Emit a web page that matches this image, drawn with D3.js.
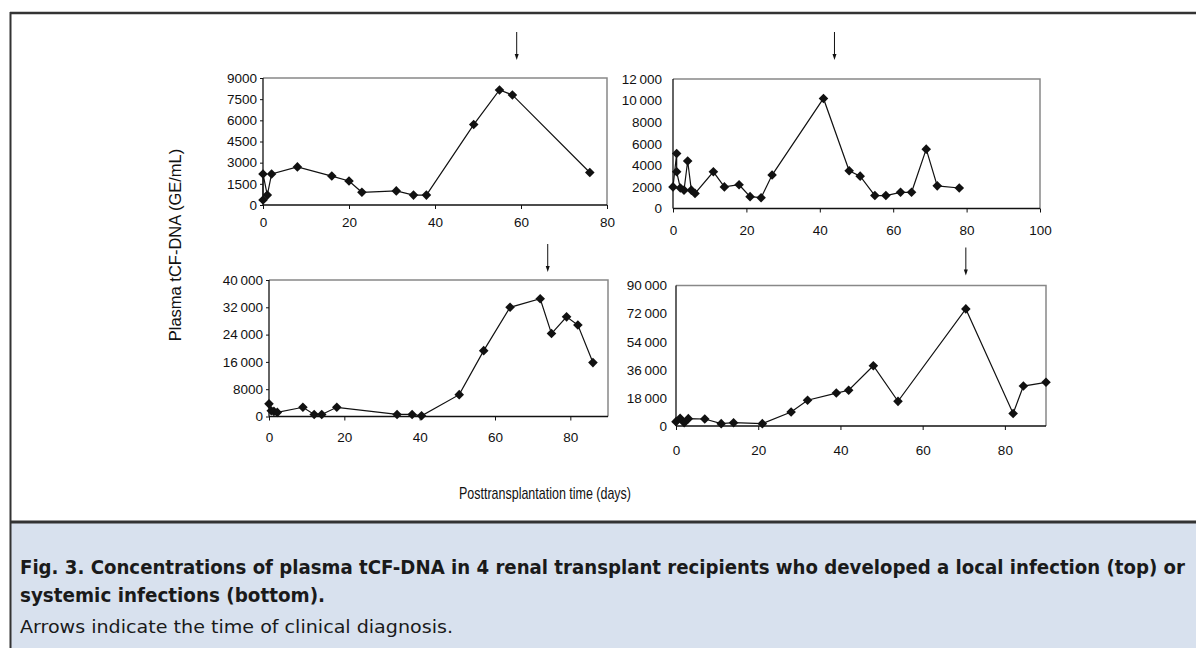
<!DOCTYPE html>
<html>
<head>
<meta charset="utf-8">
<script src="https://cdnjs.cloudflare.com/ajax/libs/d3/7.8.5/d3.min.js"></script>
<style>
  html, body { margin: 0; padding: 0; background: #fff; }
  svg { display: block; }
  .tick text { font-family: "Liberation Sans", Arial, sans-serif; font-size: 13.5px; fill: #111; }
</style>
</head>
<body>
<svg id="fig" width="1196" height="648"></svg>
<script>
// patient 1 (local infection)
const p1Days = [0, 0, 1, 2, 8, 16, 20, 23, 31, 35, 38, 49, 55, 58, 76];
const p1Vals = [350, 2200, 700, 2200, 2700, 2050, 1700, 900, 1000, 700, 700, 5700, 8150, 7800, 2300];
// patient 2 (local infection)
const p2Days = [0, 1, 1, 2, 3, 4, 5, 6, 11, 14, 18, 21, 24, 27, 41, 48, 51, 55, 58, 62, 65, 69, 72, 78];
const p2Vals = [2000, 5100, 3400, 1900, 1700, 4400, 1700, 1400, 3400, 2000, 2200, 1100, 1000, 3100, 10200, 3500, 3000, 1200, 1200, 1500, 1500, 5500, 2100, 1900];
// patient 3 (systemic infection)
const p3Days = [0, 0.6, 1.3, 2.2, 9, 12, 14, 18, 34, 38, 40.5, 50.5, 57, 64, 72, 75, 79, 82, 86];
const p3Vals = [3700, 1700, 1500, 1200, 2700, 600, 600, 2700, 600, 600, 200, 6400, 19300, 32000, 34500, 24300, 29200, 26800, 15800];
// patient 4 (systemic infection)
const p4Days = [0, 1, 2, 3, 7, 11, 14, 21, 28, 32, 39, 42, 48, 54, 70.5, 82, 84.5, 90];
const p4Vals = [2800, 4900, 2100, 4700, 4500, 1500, 2100, 1500, 9000, 16500, 21100, 22900, 38600, 15800, 75000, 8000, 25600, 28000];

// day of clinical diagnosis (arrows)
const diagnosisDays = [59, 44, 74, 70.5];

const xMax = [80, 100, 90, 90];
const yMax = [9000, 12000, 40000, 90000];
const xTicks = [[0, 20, 40, 60, 80], [0, 20, 40, 60, 80, 100], [0, 20, 40, 60, 80], [0, 20, 40, 60, 80]];
const yTicks = [
  [0, 1500, 3000, 4500, 6000, 7500, 9000],
  [0, 2000, 4000, 6000, 8000, 10000, 12000],
  [0, 8000, 16000, 24000, 32000, 40000],
  [0, 18000, 36000, 54000, 72000, 90000]
];

const yTitle = "Plasma tCF-DNA (GE/mL)";
const xTitle = "Posttransplantation time (days)";
const captionBold = ["Fig. 3.  Concentrations of plasma tCF-DNA in 4 renal transplant recipients who developed a local infection (top) or",
                     "systemic infections (bottom)."];
const captionNote = "Arrows indicate the time of clinical diagnosis.";

// layout of each small panel (pixel boxes)
const boxes = [
  { l: 263, r: 607, t: 78, b: 205, ytick: 3, ypad: 3, xlab: 12, arrowGap: 18 },
  { l: 673, r: 1040, t: 79, b: 208.5, ytick: 0, ypad: 11, xlab: 17, arrowGap: 19 },
  { l: 269, r: 608, t: 280, b: 416.5, ytick: 3, ypad: 3, xlab: 16, arrowGap: 8 },
  { l: 676, r: 1046, t: 285.5, b: 426, ytick: 0, ypad: 9, xlab: 19, arrowGap: 10 }
];

const series = [
  p1Days.map((d, i) => [d, p1Vals[i]]),
  p2Days.map((d, i) => [d, p2Vals[i]]),
  p3Days.map((d, i) => [d, p3Vals[i]]),
  p4Days.map((d, i) => [d, p4Vals[i]])
];

const svg = d3.select("#fig");

// caption background and frame
svg.append("rect").attr("x", 0).attr("y", 0).attr("width", 1196).attr("height", 648).attr("fill", "#fff");
svg.append("rect").attr("x", 10).attr("y", 522).attr("width", 1186).attr("height", 126).attr("fill", "#d8e1ee");
svg.append("line").attr("x1", 10).attr("x2", 1196).attr("y1", 13).attr("y2", 13)
  .attr("stroke", "#333").attr("stroke-width", 2.5);
svg.append("line").attr("x1", 10).attr("x2", 1196).attr("y1", 522).attr("y2", 522)
  .attr("stroke", "#333").attr("stroke-width", 3);
svg.append("line").attr("x1", 10.5).attr("x2", 10.5).attr("y1", 12).attr("y2", 648)
  .attr("stroke", "#333").attr("stroke-width", 2);

const fmt = v => v >= 10000 ? d3.format(",")(v).replace(",", "\u2009") : String(v);

boxes.forEach((bx, i) => {
  const x = d3.scaleLinear().domain([0, xMax[i]]).range([bx.l, bx.r]);
  const y = d3.scaleLinear().domain([0, yMax[i]]).range([bx.b, bx.t]);
  const g = svg.append("g");

  // grey frame on top and right
  g.append("path")
    .attr("d", `M${bx.l},${bx.t}H${bx.r}V${bx.b}`)
    .attr("fill", "none").attr("stroke", "#888").attr("stroke-width", 1.5);

  const yAxis = g.append("g").attr("transform", `translate(${bx.l},0)`)
    .call(d3.axisLeft(y).tickValues(yTicks[i]).tickFormat(fmt).tickSize(bx.ytick).tickPadding(bx.ypad));
  const xAxis = g.append("g").attr("transform", `translate(0,${bx.b})`)
    .call(d3.axisBottom(x).tickValues(xTicks[i]).tickSize(4).tickPadding(bx.xlab - 4));
  [yAxis, xAxis].forEach(a => {
    a.select(".domain").attr("stroke", "#111").attr("stroke-width", 1.3);
    a.selectAll(".tick line").attr("stroke", "#111");
  });
  yAxis.select(".domain").attr("d", `M0,${bx.b}V${bx.t}`);
  xAxis.select(".domain").attr("d", `M${bx.l},0H${bx.r}`);

  const line = d3.line().x(d => x(d[0])).y(d => y(d[1]));
  g.append("path").datum(series[i]).attr("d", line)
    .attr("fill", "none").attr("stroke", "#111").attr("stroke-width", 1.2);

  const diamond = d3.symbol().type(d3.symbolSquare).size(46);
  g.selectAll(".pt").data(series[i]).enter().append("path")
    .attr("class", "pt")
    .attr("d", diamond)
    .attr("transform", d => `translate(${x(d[0])},${y(d[1])}) rotate(45)`)
    .attr("fill", "#111");

  // diagnosis arrow
  const ax = x(diagnosisDays[i]);
  const yEnd = bx.t - bx.arrowGap;
  g.append("line").attr("x1", ax).attr("x2", ax).attr("y1", yEnd - 28).attr("y2", yEnd - 4)
    .attr("stroke", "#111").attr("stroke-width", 1);
  g.append("path").attr("d", `M${ax - 2},${yEnd - 6}L${ax + 2},${yEnd - 6}L${ax},${yEnd}Z`)
    .attr("fill", "#111");
});

// axis titles
svg.append("text")
  .attr("transform", "translate(181,245) rotate(-90)")
  .attr("text-anchor", "middle")
  .style("font-family", "'Liberation Sans', Arial, sans-serif").style("font-size", "16.5px").attr("fill", "#111")
  .text(yTitle);
svg.append("text")
  .attr("x", 459).attr("y", 499)
  .attr("textLength", 172).attr("lengthAdjust", "spacingAndGlyphs")
  .style("font-family", "'Liberation Sans', Arial, sans-serif").style("font-size", "17px").attr("fill", "#111")
  .text(xTitle);

// caption
const capFont = "'Liberation Sans Narrow', 'DejaVu Sans Condensed', 'Liberation Sans', sans-serif";
svg.append("text").attr("x", 20).attr("y", 574)
  .attr("textLength", 1165).attr("lengthAdjust", "spacingAndGlyphs")
  .style("font-family", capFont).style("font-size", "20px").style("font-weight", "bold").attr("fill", "#1a1a1a")
  .text(captionBold[0]);
svg.append("text").attr("x", 20).attr("y", 602)
  .attr("textLength", 305).attr("lengthAdjust", "spacingAndGlyphs")
  .style("font-family", capFont).style("font-size", "20px").style("font-weight", "bold").attr("fill", "#1a1a1a")
  .text(captionBold[1]);
svg.append("text").attr("x", 20).attr("y", 633)
  .attr("textLength", 433).attr("lengthAdjust", "spacingAndGlyphs")
  .style("font-family", capFont).style("font-size", "18.5px").attr("fill", "#1a1a1a")
  .text(captionNote);
</script>
</body>
</html>
